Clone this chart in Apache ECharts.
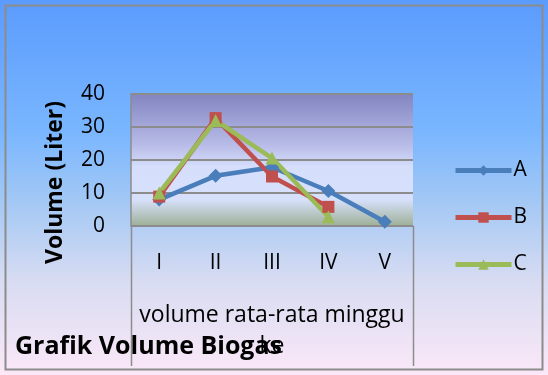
<!DOCTYPE html>
<html><head><meta charset="utf-8">
<script src="https://cdn.jsdelivr.net/npm/echarts@6/dist/echarts.min.js"></script>
<style>html,body{margin:0;padding:0;background:#fff}#c{width:548px;height:375px}</style>
</head><body><div id="c"></div>
<script>
const categories = ['I', 'II', 'III', 'IV', 'V'];
const seriesA = [8, 15.2, 17.8, 10.6, 1.3];
const seriesB = [8.9, 32.7, 15, 5.8, null];
const seriesC = [10, 32, 20.6, 2.8, null];
const yTicks = [0, 10, 20, 30, 40];

const font = '"Open Sans", "Noto Sans", sans-serif';
const chart = echarts.init(document.getElementById('c'), null, {renderer: 'canvas'});
function mk(name, data, color, symbol, size) {
  return {
    name, type: 'line', data, symbol, symbolSize: size,
    lineStyle: {color, width: 4.5}, itemStyle: {color},
    connectNulls: false, z: 3
  };
}
chart.setOption({
  animation: false,
  backgroundColor: {
    type: 'linear', x: 0, y: 0, x2: 0, y2: 1,
    colorStops: [
      {offset: 0, color: '#5b9bfd'},
      {offset: 0.35, color: '#79b6ff'},
      {offset: 0.55, color: '#a6c9f4'},
      {offset: 0.75, color: '#d8dcf2'},
      {offset: 1, color: '#fbe8f8'}
    ]
  },
  textStyle: {fontFamily: font},
  graphic: [
    {type: 'rect', shape: {x: 5.5, y: 5.5, width: 537, height: 364}, style: {fill: 'none', stroke: '#8c8c8c', lineWidth: 2}, z: 10},
    {type: 'line', shape: {x1: 131.5, y1: 226, x2: 131.5, y2: 366}, style: {stroke: '#8c8c8c', lineWidth: 1.5}},
    {type: 'line', shape: {x1: 413.5, y1: 226, x2: 413.5, y2: 366}, style: {stroke: '#8c8c8c', lineWidth: 1.5}},
    {type: 'text', left: 15, top: 334, style: {text: 'Grafik Volume Biogas', font: 'bold 25px ' + font, fill: '#000'}, z: 5}
  ],
  grid: {
    left: 131, top: 94, width: 282, height: 132,
    show: true, borderWidth: 0,
    backgroundColor: {
      type: 'linear', x: 0, y: 0, x2: 0, y2: 1,
      colorStops: [
        {offset: 0, color: '#8385c1'},
        {offset: 0.4, color: '#babee9'},
        {offset: 0.55, color: '#d5defb'},
        {offset: 0.8, color: '#d7e0fb'},
        {offset: 1, color: '#9db097'}
      ]
    }
  },
  legend: {
    orient: 'vertical', left: 453, top: 160, itemGap: 26, padding: 0,
    itemWidth: 56, itemHeight: 13,
    lineStyle: {width: 5},
    textStyle: {fontSize: 21, color: '#000', fontFamily: font, padding: [0, 0, 0, -3]},
    data: ['A', 'B', 'C']
  },
  xAxis: {
    type: 'category', data: categories, boundaryGap: true,
    name: 'volume rata-rata minggu\nke', nameLocation: 'middle', nameGap: 74,
    nameTextStyle: {fontSize: 23, color: '#000', lineHeight: 31, fontFamily: font},
    axisLine: {show: true, lineStyle: {color: '#8c8c8c', width: 1.5}},
    axisTick: {show: false},
    axisLabel: {fontSize: 21, color: '#000', margin: 27, fontFamily: font}
  },
  yAxis: {
    type: 'value', min: 0, max: 40, interval: 10,
    name: 'Volume (Liter)', nameLocation: 'middle', nameGap: 64, nameRotate: 90,
    nameTextStyle: {fontSize: 23, fontWeight: 'bold', color: '#000', fontFamily: font, padding: [0, 0, 0, -45]},
    axisLine: {show: true, lineStyle: {color: '#8c8c8c', width: 1.5}}, axisTick: {show: false},
    axisLabel: {fontSize: 21, color: '#000', margin: 26, fontFamily: font,
      formatter: v => yTicks.includes(v) ? String(v) : ''},
    splitLine: {show: true, lineStyle: {color: '#8c8c8c', width: 2}}
  },
  series: [
    mk('A', seriesA, '#4a7ebb', 'diamond', 14),
    mk('B', seriesB, '#c0504d', 'rect', 12),
    mk('C', seriesC, '#9bbb59', 'triangle', 13)
  ]
});
</script></body></html>
